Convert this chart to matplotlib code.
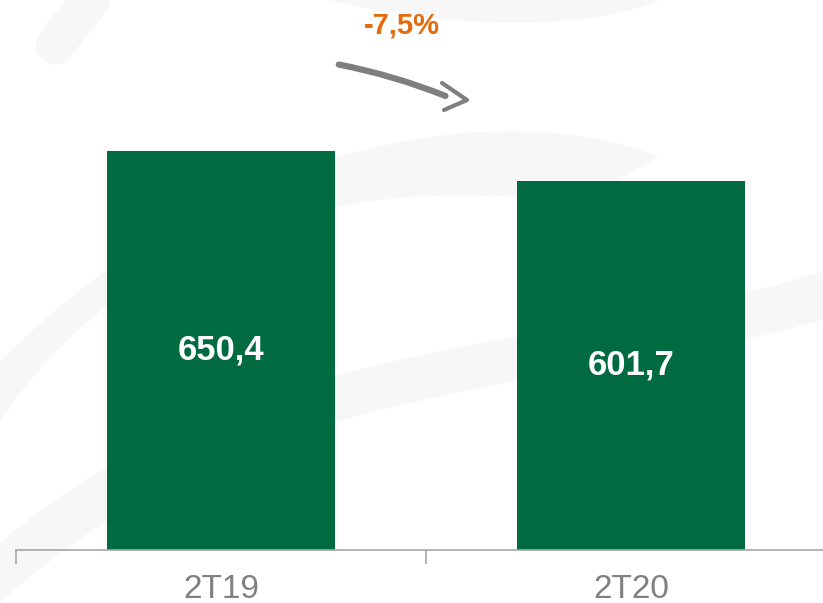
import matplotlib.pyplot as plt
from matplotlib.path import Path
from matplotlib.patches import PathPatch

categories = ["2T19", "2T20"]
values = [650.4, 601.7]
value_labels = ["650,4", "601,7"]
change_label = "-7,5%"

green = "#006A40"
orange = "#E56A0C"
gray_text = "#808080"

fig = plt.figure(figsize=(8.23, 6.03), dpi=100)

# faint background swooshes (watermark), curved paths in figure coords
wm = "#F7F7F7"
C = Path.CURVE4
swooshes = [
    ([(0, 0.40), (0.25, 0.75), (0.6, 0.85), (0.80, 0.74),
      (0.70, 0.66), (0.45, 0.72), (0.15, 0.62), (0, 0.30), (0, 0.40)],
     [Path.MOVETO, C, C, C, Path.LINETO, C, C, C, Path.CLOSEPOLY]),
    ([(0, 0.10), (0.30, 0.45), (0.70, 0.42), (1.0, 0.55),
      (1.0, 0.47), (0.70, 0.35), (0.30, 0.38), (0, 0.0), (0, 0.10)],
     [Path.MOVETO, C, C, C, Path.LINETO, C, C, C, Path.CLOSEPOLY]),
    ([(0.40, 1.0), (0.55, 0.95), (0.72, 0.95), (0.80, 1.0), (0.40, 1.0)],
     [Path.MOVETO, C, C, C, Path.CLOSEPOLY]),
]
for verts, codes in swooshes:
    fig.patches.append(PathPatch(Path(verts, codes), transform=fig.transFigure,
                                 facecolor=wm, edgecolor="none", zorder=0))
fig.add_artist(plt.Line2D([55 / 823, 100 / 823], [1 - 45 / 603, 1.02],
                          color=wm, lw=28, solid_capstyle="round", zorder=0))

ax = fig.add_axes([16 / 823, 53 / 603, 820 / 823, 550 / 603])
ax.set_zorder(2)
ax.patch.set_alpha(0)

x = range(len(categories))
bars = ax.bar(x, values, width=0.556, color=green, zorder=2)
for b, lab in zip(bars, value_labels):
    ax.text(b.get_x() + b.get_width() / 2, b.get_height() / 2, lab,
            ha="center", va="center", color="white", fontsize=25,
            fontweight="bold", family="Liberation Sans", zorder=3)

ax.set_xlim(-0.5, 1.5)
ax.set_ylim(0, 896.5)
ax.set_xticks(list(x))
ax.set_xticklabels(categories, fontsize=24, color=gray_text, family="Liberation Sans")
ax.set_xticks([-0.5, 0.5, 1.5], minor=True)
ax.tick_params(axis="x", which="major", length=0, pad=17)
ax.tick_params(axis="x", which="minor", length=10, width=1.2, color="#A6A6A6", direction="out")
ax.set_yticks([])
for s in ["top", "right", "left"]:
    ax.spines[s].set_visible(False)
ax.spines["bottom"].set_color("#A6A6A6")
ax.spines["bottom"].set_linewidth(1.2)

# change annotation
fig.text(402 / 823, 1 - 26 / 603, change_label, ha="center", va="center",
         color=orange, fontsize=21, fontweight="bold", family="Liberation Sans")

# hand-drawn style arrow
ax.annotate("", xy=(448, 603 - 97), xytext=(336, 603 - 64),
            xycoords="figure pixels", textcoords="figure pixels",
            arrowprops=dict(arrowstyle="-", color="#7F7F7F", lw=4.5,
                            connectionstyle="arc3,rad=-0.05", capstyle="round"))
fig.add_artist(plt.Line2D([442 / 823, 467 / 823, 444 / 823],
                          [1 - 83 / 603, 1 - 100 / 603, 1 - 110 / 603],
                          color="#7F7F7F", lw=3, solid_capstyle="round",
                          solid_joinstyle="round"))

fig.savefig("out.png", dpi=100)
